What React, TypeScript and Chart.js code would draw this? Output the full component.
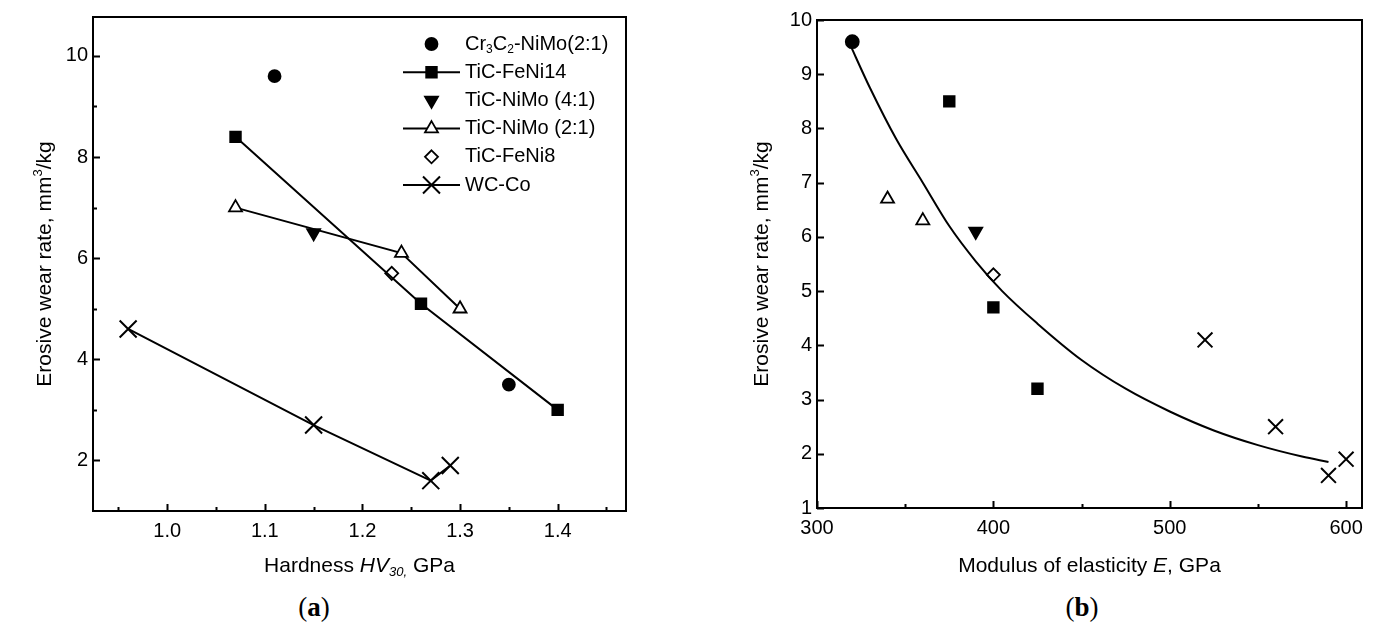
import React, { useEffect, useRef } from 'react';
import { Chart, registerables } from 'chart.js';

Chart.register(...registerables);

// ---------------- Data: panel (a) ----------------
const crNiMoHardness = [1.11, 1.35];
const crNiMoWearA = [9.6, 3.5];
const feNi14Hardness = [1.07, 1.26, 1.4];
const feNi14WearA = [8.4, 5.1, 3.0];
const niMo41Hardness = [1.15];
const niMo41WearA = [6.5];
const niMo21Hardness = [1.07, 1.24, 1.3];
const niMo21WearA = [7.0, 6.1, 5.0];
const feNi8Hardness = [1.23];
const feNi8WearA = [5.7];
const wcCoHardness = [0.96, 1.15, 1.27, 1.29];
const wcCoWearA = [4.6, 2.7, 1.6, 1.9];

const hardnessTicks = [1.0, 1.1, 1.2, 1.3, 1.4];
const hardnessMinorTicks = [0.95, 1.05, 1.15, 1.25, 1.35, 1.45];
const wearTicksA = [2, 4, 6, 8, 10];
const wearMinorTicksA = [3, 5, 7, 9];

// ---------------- Data: panel (b) ----------------
const crNiMoModulus = [320];
const crNiMoWearB = [9.6];
const feNi14Modulus = [375, 400, 425];
const feNi14WearB = [8.5, 4.7, 3.2];
const niMo41Modulus = [390];
const niMo41WearB = [6.1];
const niMo21Modulus = [340, 360];
const niMo21WearB = [6.7, 6.3];
const feNi8Modulus = [400];
const feNi8WearB = [5.3];
const wcCoModulus = [520, 560, 590, 600];
const wcCoWearB = [4.1, 2.5, 1.6, 1.9];
// fitted trend curve
const fitModulus = [318, 330, 345, 360, 375, 390, 405, 425, 450, 475, 500, 525, 550, 575, 590];
const fitWear = [9.6, 8.75, 7.8, 7.0, 6.2, 5.55, 5.0, 4.4, 3.73, 3.2, 2.78, 2.43, 2.16, 1.95, 1.85];

const modulusTicks = [300, 400, 500, 600];
const modulusMinorTicks = [350, 450, 550];
const wearTicksB = [1, 2, 3, 4, 5, 6, 7, 8, 9, 10];
const wearMinorTicksB: number[] = [];

const FONT = "'Liberation Sans', Arial, Helvetica, sans-serif";

type Seg = { t: string; italic?: boolean; sub?: boolean; sup?: boolean };

function segFont(s: Seg, size: number) {
  const sz = s.sub || s.sup ? Math.round(size * 0.62) : size;
  return `${s.italic ? 'italic ' : ''}${sz}px ${FONT}`;
}

function drawRich(ctx: CanvasRenderingContext2D, segs: Seg[], x: number, y: number, size: number, align: 'center' | 'left') {
  let total = 0;
  for (const s of segs) {
    ctx.font = segFont(s, size);
    total += ctx.measureText(s.t).width;
  }
  let cx = align === 'center' ? x - total / 2 : x;
  ctx.textAlign = 'left';
  ctx.textBaseline = 'middle';
  for (const s of segs) {
    ctx.font = segFont(s, size);
    const dy = s.sub ? size * 0.3 : s.sup ? -size * 0.3 : 0;
    ctx.fillText(s.t, cx, y + dy);
    cx += ctx.measureText(s.t).width;
  }
}

function drawMarker(ctx: CanvasRenderingContext2D, style: string, x: number, y: number, r: number, rot: number, fill: string, lw: number) {
  ctx.save();
  ctx.translate(x, y);
  ctx.rotate((rot * Math.PI) / 180);
  ctx.beginPath();
  ctx.lineWidth = lw;
  ctx.strokeStyle = '#000';
  ctx.fillStyle = fill;
  if (style === 'circle') {
    ctx.arc(0, 0, r, 0, Math.PI * 2);
  } else if (style === 'rect') {
    const h = r * Math.SQRT1_2;
    ctx.rect(-h, -h, 2 * h, 2 * h);
  } else if (style === 'triangle') {
    ctx.moveTo(0, -r);
    ctx.lineTo(r * Math.sin(Math.PI / 3), r * 0.5);
    ctx.lineTo(-r * Math.sin(Math.PI / 3), r * 0.5);
    ctx.closePath();
  } else if (style === 'rectRot') {
    ctx.moveTo(0, -r);
    ctx.lineTo(r, 0);
    ctx.lineTo(0, r);
    ctx.lineTo(-r, 0);
    ctx.closePath();
  } else if (style === 'crossRot') {
    const h = r * Math.SQRT1_2;
    ctx.moveTo(-h, -h);
    ctx.lineTo(h, h);
    ctx.moveTo(h, -h);
    ctx.lineTo(-h, h);
    ctx.stroke();
    ctx.restore();
    return;
  }
  ctx.fill();
  ctx.stroke();
  ctx.restore();
}

type LegendItem = { label: Seg[]; style: string; rot: number; fill: string; line: boolean; r: number };

const legendLabels: Seg[][] = [
  [{ t: 'Cr' }, { t: '3', sub: true }, { t: 'C' }, { t: '2', sub: true }, { t: '-NiMo(2:1)' }],
  [{ t: 'TiC-FeNi14' }],
  [{ t: 'TiC-NiMo (4:1)' }],
  [{ t: 'TiC-NiMo (2:1)' }],
  [{ t: 'TiC-FeNi8' }],
  [{ t: 'WC-Co' }],
];

function makeDecorPlugin(cfg: {
  majorX: number[]; minorX: number[]; majorY: number[]; minorY: number[];
  yTitleX: number; xTitleY: number; xTitle: Seg[]; yTitle: Seg[]; titleSize: number;
  legend?: { x: number; y: number; dy: number; items: LegendItem[]; size: number };
}) {
  return {
    id: 'decor',
    afterDraw(chart: any) {
      const ctx: CanvasRenderingContext2D = chart.ctx;
      const a = chart.chartArea;
      const xs = chart.scales.x;
      const ys = chart.scales.y;
      ctx.save();
      ctx.strokeStyle = '#000';
      ctx.fillStyle = '#000';
      ctx.lineWidth = 2;
      ctx.strokeRect(a.left, a.top, a.right - a.left, a.bottom - a.top);
      ctx.lineWidth = 2;
      ctx.beginPath();
      const tx = (v: number, len: number) => {
        const p = Math.round(xs.getPixelForValue(v)) + 0.5;
        ctx.moveTo(p, a.bottom);
        ctx.lineTo(p, a.bottom - len);
      };
      const ty = (v: number, len: number) => {
        const p = Math.round(ys.getPixelForValue(v)) + 0.5;
        ctx.moveTo(a.left, p);
        ctx.lineTo(a.left + len, p);
      };
      cfg.majorX.forEach((v) => tx(v, 7));
      cfg.minorX.forEach((v) => tx(v, 4));
      cfg.majorY.forEach((v) => ty(v, 7));
      cfg.minorY.forEach((v) => ty(v, 4));
      ctx.stroke();

      // axis titles
      drawRich(ctx, cfg.xTitle, (a.left + a.right) / 2, cfg.xTitleY, cfg.titleSize, 'center');
      ctx.save();
      ctx.translate(cfg.yTitleX, (a.top + a.bottom) / 2);
      ctx.rotate(-Math.PI / 2);
      drawRich(ctx, cfg.yTitle, 0, 0, cfg.titleSize, 'center');
      ctx.restore();

      // legend
      if (cfg.legend) {
        const L = cfg.legend;
        L.items.forEach((it, i) => {
          const y = L.y + i * L.dy;
          if (it.line) {
            ctx.beginPath();
            ctx.lineWidth = 2;
            ctx.moveTo(L.x, y);
            ctx.lineTo(L.x + 57, y);
            ctx.stroke();
          }
          drawMarker(ctx, it.style, L.x + 28.5, y, it.r, it.rot, it.fill, it.style === 'crossRot' ? 2 : 1.8);
          ctx.fillStyle = '#000';
          drawRich(ctx, it.label, L.x + 62, y, L.size, 'left');
        });
      }
      ctx.restore();
    },
  };
}

const pts = (xs: number[], ys: number[]) => xs.map((x, i) => ({ x, y: ys[i] }));

function series(label: string, xs: number[], ys: number[], style: string, r: number, fill: string, line: boolean, rot = 0) {
  return {
    label,
    data: pts(xs, ys),
    showLine: line,
    borderColor: '#000',
    borderWidth: 2,
    pointStyle: style,
    pointRadius: r,
    pointRotation: rot,
    pointBackgroundColor: fill,
    pointBorderColor: '#000',
    pointBorderWidth: style === 'crossRot' ? 2 : 1.8,
    fill: false,
  };
}

function axisCfg(min: number, max: number, ticks: number[], fmt: (v: number) => string, fit: (s: any) => void, padding: number) {
  return {
    type: 'linear' as const,
    min,
    max,
    grid: { display: false, drawTicks: false },
    border: { display: false },
    afterBuildTicks: (s: any) => {
      s.ticks = ticks.map((v) => ({ value: v }));
    },
    afterFit: fit,
    ticks: {
      autoSkip: false,
      maxRotation: 0,
      padding,
      color: '#000',
      font: { family: FONT, size: 20 },
      callback: (v: any) => fmt(Number(v)),
    },
  };
}

export default function App() {
  const refA = useRef<HTMLCanvasElement>(null);
  const refB = useRef<HTMLCanvasElement>(null);

  useEffect(() => {
    const itemsA: LegendItem[] = [
      { label: legendLabels[0], style: 'circle', rot: 0, fill: '#000', line: false, r: 6 },
      { label: legendLabels[1], style: 'rect', rot: 0, fill: '#000', line: true, r: 7.5 },
      { label: legendLabels[2], style: 'triangle', rot: 180, fill: '#000', line: false, r: 7.5 },
      { label: legendLabels[3], style: 'triangle', rot: 0, fill: '#fff', line: true, r: 7.5 },
      { label: legendLabels[4], style: 'rectRot', rot: 0, fill: '#fff', line: false, r: 6.5 },
      { label: legendLabels[5], style: 'crossRot', rot: 0, fill: '#000', line: true, r: 12 },
    ];

    const chartA = new Chart(refA.current!, {
      type: 'scatter',
      data: {
        datasets: [
          series('Cr3C2-NiMo(2:1)', crNiMoHardness, crNiMoWearA, 'circle', 6, '#000', false),
          series('TiC-FeNi14', feNi14Hardness, feNi14WearA, 'rect', 7.5, '#000', true),
          series('TiC-NiMo (4:1)', niMo41Hardness, niMo41WearA, 'triangle', 7.5, '#000', false, 180),
          series('TiC-NiMo (2:1)', niMo21Hardness, niMo21WearA, 'triangle', 7.5, '#fff', true),
          series('TiC-FeNi8', feNi8Hardness, feNi8WearA, 'rectRot', 6.5, '#fff', false),
          series('WC-Co', wcCoHardness, wcCoWearA, 'crossRot', 12, '#000', true),
        ] as any,
      },
      options: {
        animation: false,
        responsive: false,
        maintainAspectRatio: false,
        layout: { padding: { left: 0, top: 14, right: 24, bottom: 0 } },
        plugins: { legend: { display: false }, tooltip: { enabled: false } },
        scales: {
          x: axisCfg(0.924, 1.47, hardnessTicks, (v) => v.toFixed(1), (s) => { s.height = 79; }, 8),
          y: axisCfg(1.0, 10.77, wearTicksA, (v) => String(Math.round(v)), (s) => { s.width = 93; }, 5),
        } as any,
      },
      plugins: [
        makeDecorPlugin({
          majorX: hardnessTicks, minorX: hardnessMinorTicks, majorY: wearTicksA, minorY: wearMinorTicksA,
          yTitleX: 45, xTitleY: 566, titleSize: 21,
          xTitle: [{ t: 'Hardness ' }, { t: 'HV', italic: true }, { t: '30,', italic: true, sub: true }, { t: ' GPa' }],
          yTitle: [{ t: 'Erosive wear rate, mm' }, { t: '3', sup: true }, { t: '/kg' }],
          legend: { x: 403, y: 44, dy: 28.2, items: itemsA, size: 20 },
        }) as any,
      ],
    });

    const chartB = new Chart(refB.current!, {
      type: 'scatter',
      data: {
        datasets: [
          {
            label: 'fit',
            data: pts(fitModulus, fitWear),
            showLine: true,
            borderColor: '#000',
            borderWidth: 2,
            pointRadius: 0,
            cubicInterpolationMode: 'monotone',
            fill: false,
          },
          series('Cr3C2-NiMo(2:1)', crNiMoModulus, crNiMoWearB, 'circle', 6.5, '#000', false),
          series('TiC-FeNi14', feNi14Modulus, feNi14WearB, 'rect', 7.5, '#000', false),
          series('TiC-NiMo (4:1)', niMo41Modulus, niMo41WearB, 'triangle', 7.5, '#000', false, 180),
          series('TiC-NiMo (2:1)', niMo21Modulus, niMo21WearB, 'triangle', 7.5, '#fff', false),
          series('TiC-FeNi8', feNi8Modulus, feNi8WearB, 'rectRot', 6.5, '#fff', false),
          series('WC-Co', wcCoModulus, wcCoWearB, 'crossRot', 10.5, '#000', false),
        ] as any,
      },
      options: {
        animation: false,
        responsive: false,
        maintainAspectRatio: false,
        layout: { padding: { left: 0, top: 20, right: 24, bottom: 0 } },
        plugins: { legend: { display: false }, tooltip: { enabled: false } },
        scales: {
          x: axisCfg(300, 609, modulusTicks, (v) => String(Math.round(v)), (s) => { s.height = 82; }, 8),
          y: axisCfg(1, 10, wearTicksB, (v) => String(Math.round(v)), (s) => { s.width = 124; }, 5),
        } as any,
      },
      plugins: [
        makeDecorPlugin({
          majorX: modulusTicks, minorX: modulusMinorTicks, majorY: wearTicksB, minorY: wearMinorTicksB,
          yTitleX: 69, xTitleY: 566, titleSize: 21,
          xTitle: [{ t: 'Modulus of elasticity ' }, { t: 'E', italic: true }, { t: ', GPa' }],
          yTitle: [{ t: 'Erosive wear rate, mm' }, { t: '3', sup: true }, { t: '/kg' }],
        }) as any,
      ],
    });

    return () => {
      chartA.destroy();
      chartB.destroy();
    };
  }, []);

  const caption: React.CSSProperties = {
    position: 'absolute',
    top: 590,
    width: 80,
    textAlign: 'center',
    fontFamily: "'Liberation Serif', 'Times New Roman', serif",
    fontSize: 27,
    color: '#000',
    lineHeight: '34px',
  };

  return (
    <div style={{ position: 'fixed', left: 0, top: 0, width: 1386, height: 640, background: '#fff', overflow: 'hidden' }}>
      <canvas ref={refA} width={650} height={590} style={{ position: 'absolute', left: 0, top: 0, width: 650, height: 590 }} />
      <canvas ref={refB} width={693} height={590} style={{ position: 'absolute', left: 693, top: 0, width: 693, height: 590 }} />
      <div style={{ ...caption, left: 314 - 40 }}>(<b>a</b>)</div>
      <div style={{ ...caption, left: 1082 - 40 }}>(<b>b</b>)</div>
    </div>
  );
}
